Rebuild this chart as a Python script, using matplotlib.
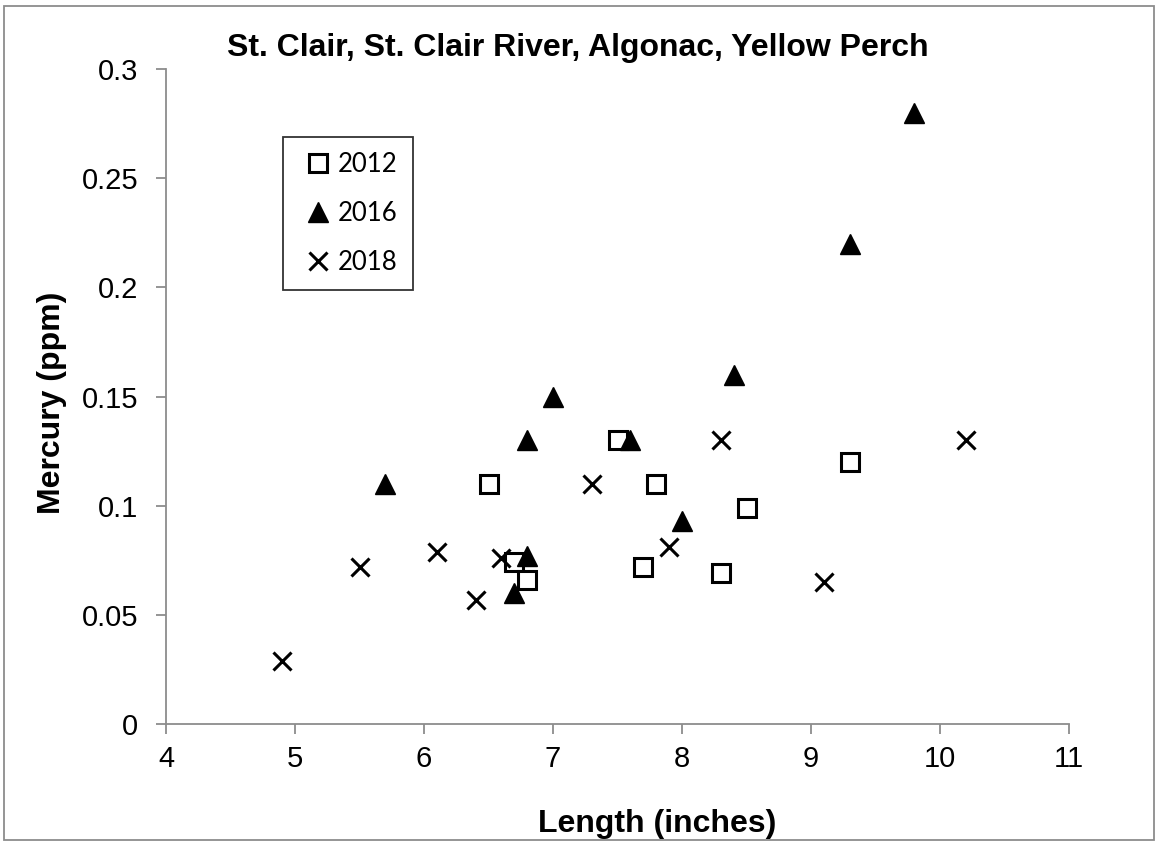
import matplotlib
matplotlib.use("Agg")
import matplotlib.pyplot as plt
from matplotlib.patches import Rectangle
from matplotlib.ticker import FuncFormatter

# fish length (inches) and mercury (ppm) by sampling year
len_2012 = [6.5, 6.7, 6.8, 7.5, 7.8, 7.7, 8.5, 8.3, 9.3]
hg_2012 = [0.11, 0.074, 0.066, 0.13, 0.11, 0.072, 0.099, 0.069, 0.12]

len_2016 = [5.7, 6.7, 6.8, 6.8, 7.0, 7.6, 8.0, 8.4, 9.3, 9.8]
hg_2016 = [0.11, 0.06, 0.077, 0.13, 0.15, 0.13, 0.093, 0.16, 0.22, 0.28]

len_2018 = [4.9, 5.5, 6.1, 6.4, 6.6, 7.3, 7.9, 8.3, 9.1, 10.2]
hg_2018 = [0.029, 0.072, 0.079, 0.057, 0.076, 0.11, 0.081, 0.13, 0.065, 0.13]

x_ticks = [4, 5, 6, 7, 8, 9, 10, 11]
y_ticks = [0, 0.05, 0.1, 0.15, 0.2, 0.25, 0.3]

W, H = 1156, 842
plt.rcParams["font.family"] = ["Liberation Sans", "DejaVu Sans"]

fig = plt.figure(figsize=(W / 100, H / 100), dpi=100)
ax = fig.add_axes([166 / W, 1 - 724 / H, (1069 - 166) / W, (724 - 69) / H])

# outer chart border
fig.patches.append(Rectangle((4 / W, 1 - 840 / H), 1150 / W, 834 / H,
                             transform=fig.transFigure, fill=False,
                             edgecolor="#8c8c8c", linewidth=1.3))

ax.plot(len_2012, hg_2012, "s", markersize=13.5, markerfacecolor="white",
        markeredgecolor="black", markeredgewidth=2.2, linestyle="none", label="2012")
ax.plot(len_2016, hg_2016, "^", markersize=15, color="black",
        linestyle="none", label="2016")
ax.plot(len_2018, hg_2018, "x", markersize=13.5, color="black",
        markeredgewidth=2.2, linestyle="none", label="2018")

ax.set_xlim(4, 11)
ax.set_ylim(0, 0.3)
ax.set_xticks(x_ticks)
ax.set_yticks(y_ticks)
ax.yaxis.set_major_formatter(FuncFormatter(lambda v, p: "%g" % v))

for s in ["top", "right"]:
    ax.spines[s].set_visible(False)
for s in ["left", "bottom"]:
    ax.spines[s].set_color("#8c8c8c")
    ax.spines[s].set_linewidth(1.3)
ax.tick_params(direction="out", length=7, width=1.3, color="#8c8c8c",
               labelsize=21)
ax.tick_params(axis="x", pad=8)
ax.tick_params(axis="y", pad=13)

fig.text(578 / W, 1 - 56 / H, "St. Clair, St. Clair River, Algonac, Yellow Perch",
         fontsize=23, fontweight="bold", ha="center", va="baseline")
fig.text(657 / W, 1 - 832 / H, "Length (inches)",
         fontsize=23, fontweight="bold", ha="center", va="baseline")
fig.text(52 / W, 1 - 403 / H, "Mercury (ppm)", rotation=90,
         fontsize=23, fontweight="bold", ha="center", va="center")

leg = ax.legend(loc="upper left", bbox_to_anchor=(117 / 903, (724 - 137) / 655),
                borderaxespad=0, fancybox=False, edgecolor="black",
                prop={"family": "Lato", "size": 18.5}, handlelength=1.5,
                handletextpad=0.05, labelspacing=0.92, borderpad=0.6)
leg.get_frame().set_linewidth(1.3)

fig.savefig("out.png", dpi=100)
